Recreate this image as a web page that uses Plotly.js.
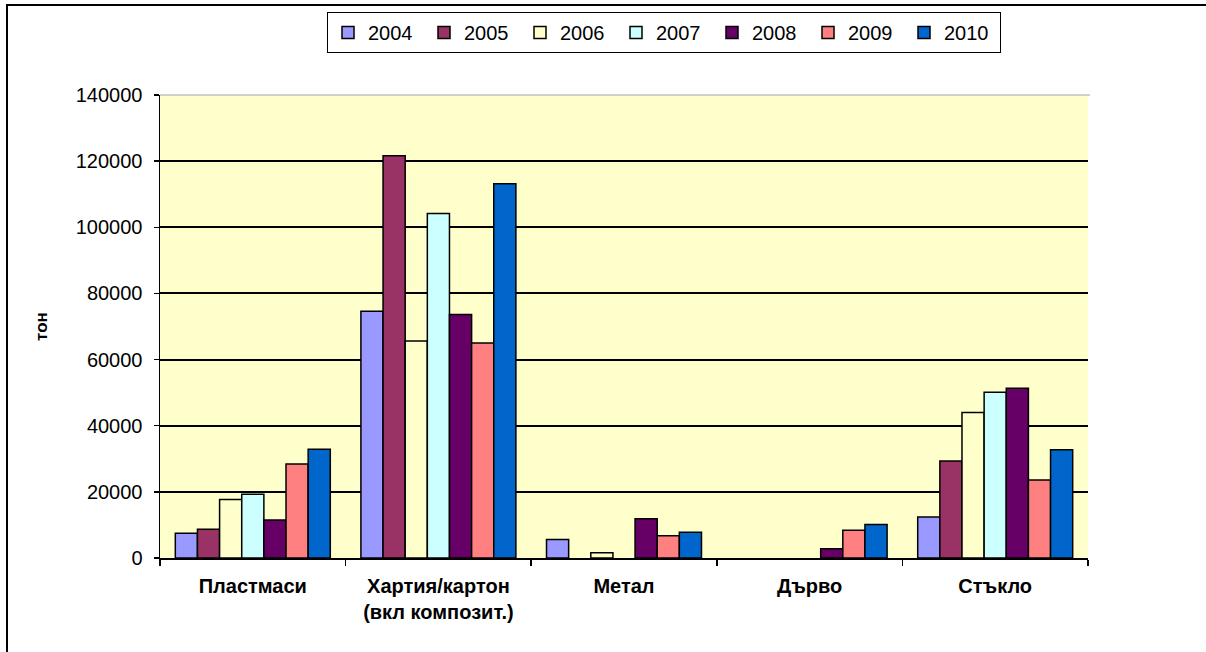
<!DOCTYPE html>
<html>
<head>
<meta charset="utf-8">
<script src="https://cdn.plot.ly/plotly-3.0.1.min.js"></script>
<style>
  html, body { margin: 0; padding: 0; background: #ffffff; }
  #chart { width: 1206px; height: 652px; }
</style>
</head>
<body>
<div id="chart"></div>
<script>
const categories = ["Пластмаси", "Хартия/картон<br>(вкл композит.)", "Метал", "Дърво", "Стъкло"];
const years = ["2004", "2005", "2006", "2007", "2008", "2009", "2010"];
const colors = ["#9999FF", "#993366", "#FFFFCC", "#CCFFFF", "#660066", "#FF8080", "#0066CC"];

// null = no bar drawn in the reference
const v2004 = [7500, 74600, 5600, null, 12400];
const v2005 = [8700, 121600, null, null, 29300];
const v2006 = [17700, 65600, 1600, null, 44000];
const v2007 = [19300, 104200, null, null, 50100];
const v2008 = [11500, 73600, 11900, 2800, 51300];
const v2009 = [28400, 65000, 6700, 8400, 23600];
const v2010 = [32900, 113200, 7800, 10100, 32700];
const series = [v2004, v2005, v2006, v2007, v2008, v2009, v2010];

const yTicks = [0, 20000, 40000, 60000, 80000, 100000, 120000, 140000];
const yTickText = ["0", "20000", "40000", "60000", "80000", "100000", "120000", "140000"];

const traces = series.map((vals, i) => ({
  type: "bar",
  name: years[i],
  x: categories,
  y: vals,
  marker: { color: colors[i], line: { color: "#000000", width: 1.5 } },
  hoverinfo: "x+y+name"
}));

const L = 160, R = 118, T = 95, B = 94;
const W = 1206, H = 652;
const pw = W - L - R, ph = H - T - B;
function px2x(p) { return (p - L) / pw; }
function py2y(p) { return (H - B - p) / ph; }

const layout = {
  width: W,
  height: H,
  margin: { l: L, r: R, t: T, b: B, pad: 0 },
  paper_bgcolor: "#ffffff",
  plot_bgcolor: "#FFFFCC",
  barmode: "group",
  bargap: 0.165,
  bargroupgap: 0,
  font: { family: "Liberation Sans, Arial, sans-serif", color: "#000000" },
  showlegend: true,
  legend: {
    orientation: "h",
    x: px2x(327),
    y: py2y(12),
    xanchor: "left",
    yanchor: "top",
    bgcolor: "#ffffff",
    bordercolor: "#000000",
    borderwidth: 1,
    font: { family: "Liberation Sans, Arial, sans-serif", size: 20, color: "#000000" },
    entrywidth: 51,
    entrywidthmode: "pixels",
    traceorder: "normal"
  },
  xaxis: {
    type: "category",
    showgrid: false,
    showline: true,
    linecolor: "#000000",
    linewidth: 1.5,
    ticks: "outside",
    tickson: "boundaries",
    ticklen: 6,
    tickwidth: 1.5,
    tickcolor: "#000000",
    ticklabelstandoff: 9,
    tickfont: { family: "Liberation Sans, Arial, sans-serif", size: 20, weight: "bold", color: "#000000" },
    zeroline: false,
    fixedrange: true
  },
  yaxis: {
    range: [0, 140000],
    tickvals: yTicks,
    ticktext: yTickText,
    showgrid: true,
    gridcolor: "#000000",
    gridwidth: 2,
    showline: true,
    linecolor: "#000000",
    linewidth: 1.5,
    ticks: "outside",
    ticklen: 5,
    tickwidth: 1.5,
    tickcolor: "#000000",
    ticklabelstandoff: 7,
    tickfont: { family: "Liberation Sans, Arial, sans-serif", size: 20, color: "#000000" },
    zeroline: false,
    title: { text: "тон", standoff: 24, font: { family: "Liberation Sans, Arial, sans-serif", size: 17, weight: "bold", color: "#000000" } },
    fixedrange: true
  },
  shapes: [
    { type: "line", xref: "paper", yref: "paper", x0: 0, x1: px2x(1090), y0: 1, y1: 1,
      line: { color: "#C0C0C0", width: 1.5 }, layer: "above" },
    { type: "path", xref: "paper", yref: "paper",
      path: "M " + px2x(7) + "," + py2y(660) + " L " + px2x(7) + "," + py2y(5) + " L " + px2x(1215) + "," + py2y(5),
      line: { color: "#000000", width: 2 } }
  ]
};

Plotly.newPlot("chart", traces, layout, { displayModeBar: false, staticPlot: true });
</script>
</body>
</html>
